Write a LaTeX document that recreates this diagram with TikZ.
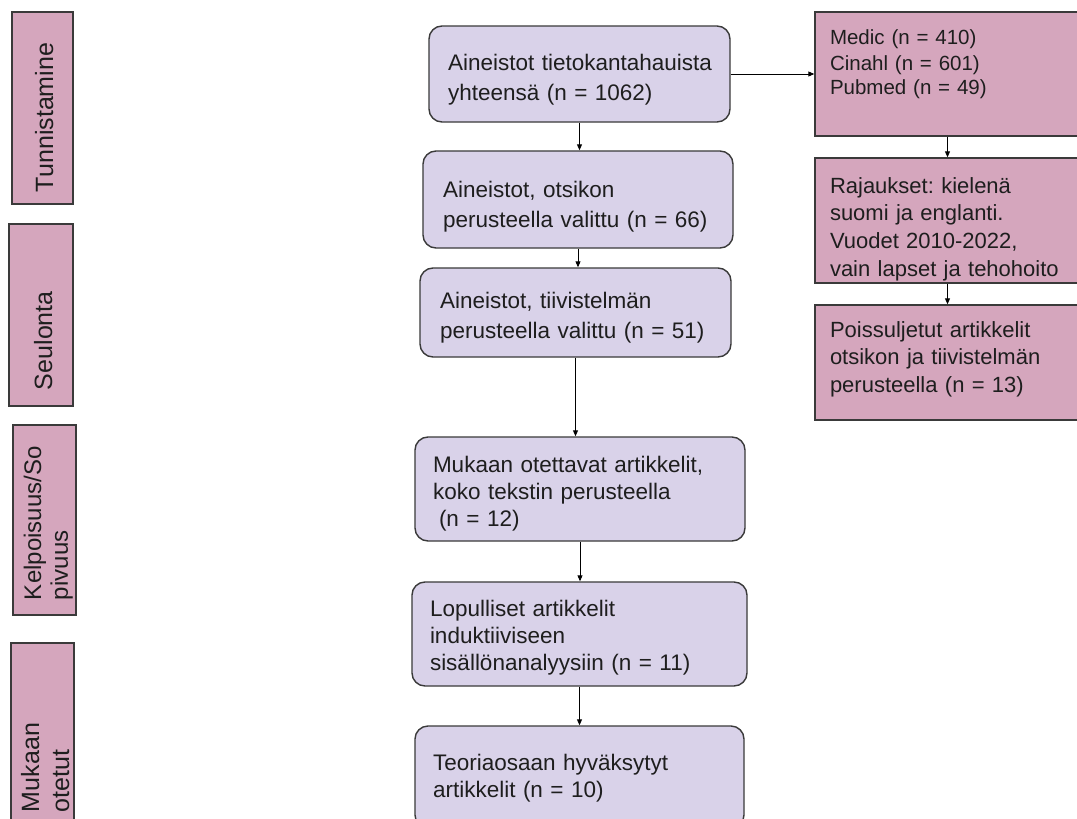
\documentclass[tikz,border=0pt]{standalone}
\usepackage{fontspec}
\setmainfont{Liberation Sans}
\usetikzlibrary{arrows.meta}
\definecolor{lav}{HTML}{D9D2E9}
\definecolor{pinkb}{HTML}{D5A6BD}
\definecolor{edgec}{HTML}{3A3A3A}
\definecolor{txt}{HTML}{1E1E1E}
\frenchspacing
\begin{document}
\begin{tikzpicture}[x=1pt,y=-1pt,
  mainbox/.style={draw=edgec, fill=lav, line width=1.4pt, rounded corners=13pt,
    align=left, inner ysep=0pt, text=txt, font=\fontsize{22.5}{30}\selectfont, text height=16pt},
  sidebox/.style={draw=edgec, fill=pinkb, line width=1.4pt, align=left, inner ysep=0pt,
    inner xsep=15pt, text=txt, font=\fontsize{22}{27.7}\selectfont, text height=16pt,
    minimum width=265pt, text width=235pt},
  phase/.style={draw=edgec, fill=pinkb, line width=1.4pt, rotate=90, align=left,
    inner ysep=0pt, text=txt, font=\fontsize{25}{29}\selectfont},
  arr/.style={draw=black, line width=0.9pt, -{Triangle[length=6pt,width=5pt]}}
]
\fill[white] (0,0) rectangle (1077,819);
\useasboundingbox (0,0) rectangle (1077,819);

% phase labels
\node[phase, minimum width=192pt, minimum height=61pt, inner xsep=12pt, text width=168pt,
  text height=30pt, text depth=9pt] (p1) at (42.5,108) {Tunnistamine};
\node[phase, minimum width=182pt, minimum height=64pt, inner xsep=16pt, text width=150pt,
  text height=30pt, text depth=8pt] (p2) at (41,315) {Seulonta};
\node[phase, minimum width=190pt, minimum height=63pt, inner xsep=15pt, text width=160pt,
  text height=20pt, text depth=27pt, font=\fontsize{24}{27}\selectfont] (p3) at (44.5,520) {\mbox{Kelpoisuus/So}\\pivuus};
\node[phase, minimum width=185pt, minimum height=63pt, inner xsep=16pt, text width=153pt,
  text height=20pt, text depth=27pt, font=\fontsize{25}{30}\selectfont] (p4) at (42.5,735.5) {Mukaan\\otetut};

% main column
\node[mainbox, minimum width=301pt, minimum height=96pt, inner xsep=19pt, text width=263pt,
  text depth=24pt] (b1) at (579.5,74) {\mbox{Aineistot tietokantahauista}\\yhteensä (n = 1062)};
\node[mainbox, minimum width=310pt, minimum height=97pt, inner xsep=20pt, text width=270pt,
  text depth=21pt] (b2) at (578,199.5) {Aineistot, otsikon\\perusteella valittu (n = 66)};
\node[mainbox, minimum width=311pt, minimum height=89pt, inner xsep=20pt, text width=271pt,
  text depth=25pt] (b3) at (575.5,312.5) {Aineistot, tiivistelmän\\perusteella valittu (n = 51)};
\node[mainbox, minimum width=330pt, minimum height=104pt, inner xsep=18pt, text width=294pt,
  text depth=50pt, font=\fontsize{22.5}{27}\selectfont] (b4) at (580,489)
  {Mukaan otettavat artikkelit,\\koko tekstin perusteella\\\hspace*{6pt}(n = 12)};
\node[mainbox, minimum width=335pt, minimum height=104pt, inner xsep=18pt, text width=299pt,
  text depth=52pt, font=\fontsize{22.5}{27}\selectfont] (b5) at (579.5,634)
  {Lopulliset artikkelit\\induktiiviseen\\sisällönanalyysiin (n = 11)};
\node[mainbox, minimum width=329pt, minimum height=102pt, inner xsep=18pt, text width=293pt,
  text depth=30pt, font=\fontsize{22.5}{27}\selectfont] (b6) at (579.5,777)
  {Teoriaosaan hyväksytyt\\artikkelit (n = 10)};

% side column
\node[sidebox, minimum height=124pt, font=\fontsize{20.5}{25}\selectfont, text height=15pt,
  text depth=73pt] (r1) at (947.5,74) {Medic (n = 410)\\Cinahl (n = 601)\\Pubmed (n = 49)};
\node[sidebox, minimum height=125pt, text depth=71pt] (r2) at (947.5,220.5)
  {Rajaukset: kielenä\\suomi ja englanti.\\Vuodet 2010-2022,\\\mbox{vain lapset ja tehohoito}};
\node[sidebox, minimum height=115pt, text depth=67pt, font=\fontsize{22}{27.5}\selectfont] (r3) at (947.5,362.5)
  {Poissuljetut artikkelit\\otsikon ja tiivistelmän\\perusteella (n = 13)};

% connectors
\draw[arr] (b1.south) -- (b1.south |- b2.north);
\draw[arr] (b2.south) -- (b2.south |- b3.north);
\draw[arr] (b3.south) -- (b3.south |- b4.north);
\draw[arr] (b4.south) -- (b4.south |- b5.north);
\draw[arr] (b5.south) -- (b5.south |- b6.north);
\draw[arr] (b1.east) -- (b1.east -| r1.west);
\draw[arr] (r1.south) -- (r1.south |- r2.north);
\draw[arr] (r2.south) -- (r2.south |- r3.north);
\end{tikzpicture}
\end{document}
